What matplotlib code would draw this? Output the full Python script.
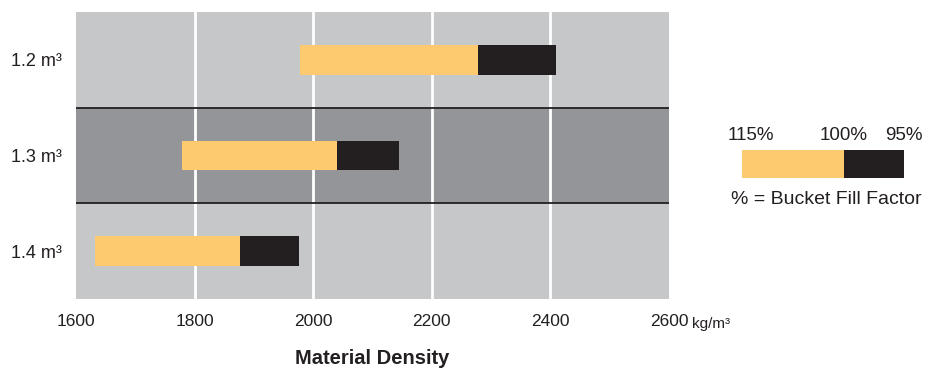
import matplotlib
matplotlib.use("Agg")
import matplotlib.pyplot as plt

plt.rcParams['font.family'] = ['Liberation Sans', 'DejaVu Sans']

# bucket sizes, top to bottom
buckets = ["1.2 m³", "1.3 m³", "1.4 m³"]
# density range at 115% / 100% / 95% fill factor (kg/m3)
dens_115 = [1978, 1778, 1632]
dens_100 = [2278, 2040, 1876]
dens_95 = [2410, 2145, 1976]

xticks = [1600, 1800, 2000, 2200, 2400, 2600]
band_colors = ["#c6c7c9", "#939598", "#c6c7c9"]

legend_labels = ["115%", "100%", "95%"]
legend_parts = [100, 59]  # widths of yellow / black part in the key

YELLOW = "#fdca6f"
BLACK = "#231f20"

fig = plt.figure(figsize=(9.32, 3.70), dpi=100)
ax = fig.add_axes([76 / 932, 1 - 299 / 370, (669 - 76) / 932, (299 - 12) / 370])

n = len(buckets)
for i in range(n):
    ax.axhspan(i - 0.5, i + 0.5, color=band_colors[i], zorder=0, lw=0)
for x in xticks[1:-1]:
    ax.axvline(x, color="white", lw=2, zorder=1)
for b in [0.5, 1.5]:
    ax.axhline(b, color=BLACK, lw=1.3, zorder=2)

ys = list(range(n))
h = 0.31
ax.barh(ys, [a - b for a, b in zip(dens_100, dens_115)], left=dens_115,
        height=h, color=YELLOW, zorder=3, lw=0)
ax.barh(ys, [a - b for a, b in zip(dens_95, dens_100)], left=dens_100,
        height=h, color=BLACK, zorder=3, lw=0)

ax.set_xlim(1600, 2600)
ax.set_ylim(n - 0.5, -0.5)
ax.set_xticks(xticks)
ax.set_xticklabels([str(x) for x in xticks], fontsize=12.5, color=BLACK)
ax.set_yticks(ys)
ax.set_yticklabels(buckets, fontsize=13, color=BLACK)
ax.tick_params(axis='x', length=0, pad=11)
ax.tick_params(axis='y', length=0, pad=10)
for s in ax.spines.values():
    s.set_visible(False)

fig.text(692 / 932, 1 - 324 / 370, "kg/m³", fontsize=11, color=BLACK, va="center")
fig.text(372 / 932, 1 - 358 / 370, "Material Density", fontsize=14.5,
         fontweight="bold", color=BLACK, ha="center", va="center")

# key
lax = fig.add_axes([742 / 932, 1 - 178 / 370, (904 - 742) / 932, (178 - 150) / 370])
lax.barh([0], [legend_parts[0]], color=YELLOW, height=1, lw=0)
lax.barh([0], [legend_parts[1]], left=legend_parts[0], color=BLACK, height=1, lw=0)
lax.set_xlim(0, sum(legend_parts))
lax.set_ylim(-0.5, 0.5)
lax.axis("off")

fig.text(751 / 932, 1 - 136 / 370, legend_labels[0], fontsize=13.5, color=BLACK, ha="center", va="center")
fig.text(844 / 932, 1 - 136 / 370, legend_labels[1], fontsize=13.5, color=BLACK, ha="center", va="center")
fig.text(904 / 932, 1 - 136 / 370, legend_labels[2], fontsize=13.5, color=BLACK, ha="center", va="center")
fig.text(826 / 932, 1 - 200 / 370, "% = Bucket Fill Factor", fontsize=14, color=BLACK,
         ha="center", va="center")

fig.savefig("out.png", dpi=100)
